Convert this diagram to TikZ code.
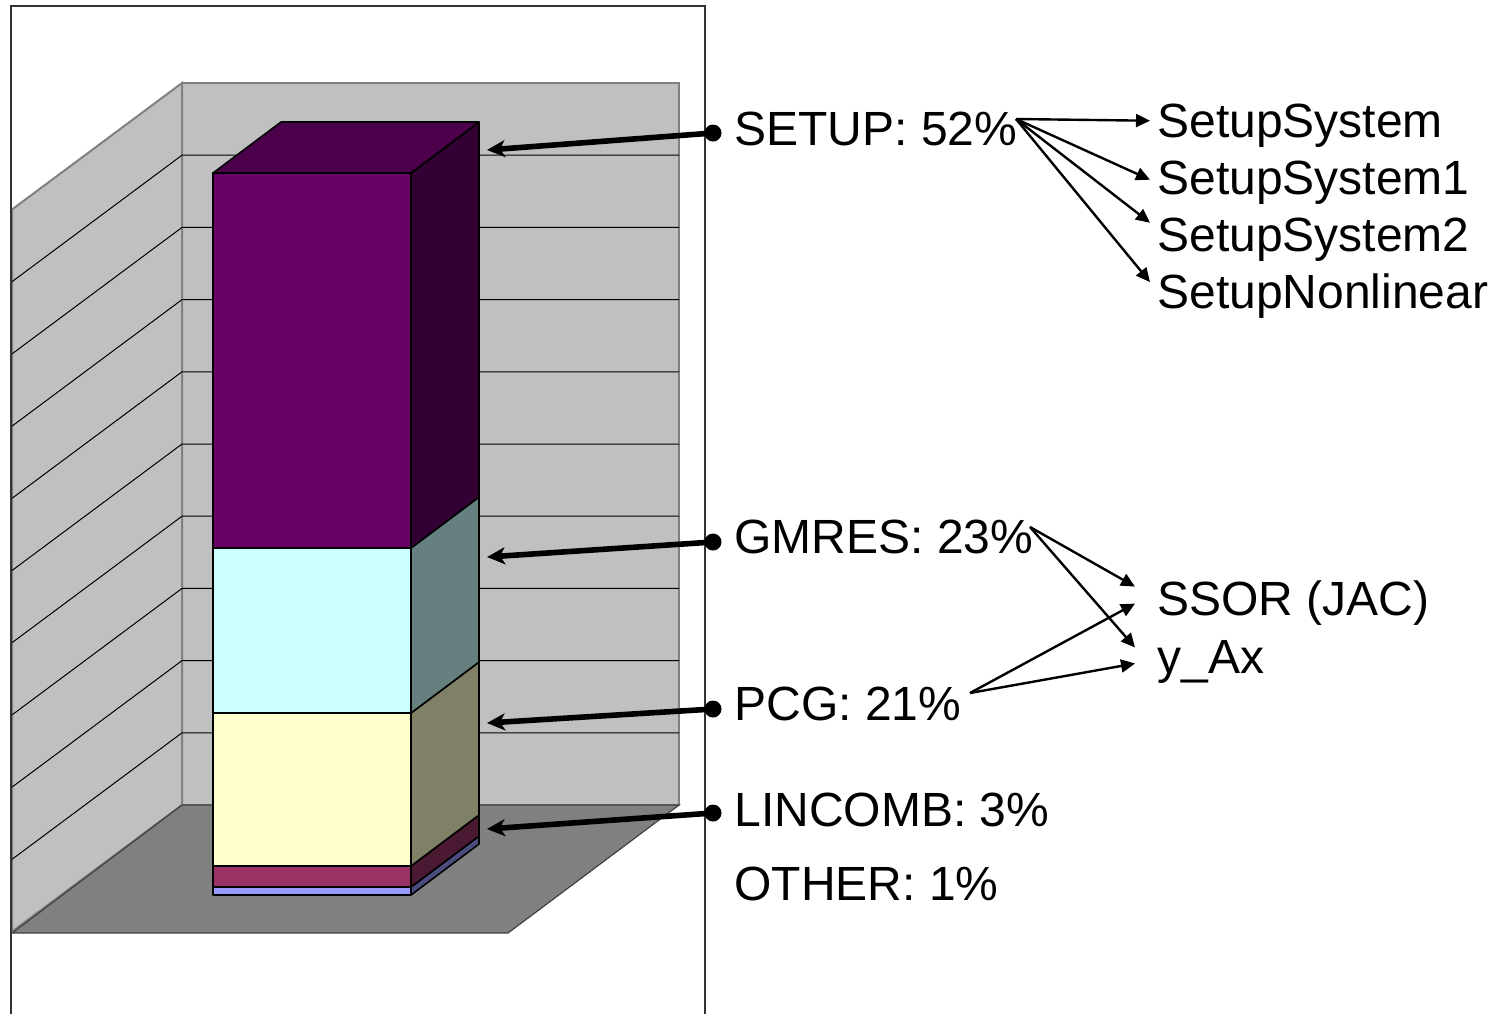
\documentclass[tikz,border=0pt]{standalone}
\usepackage{fontspec}
\setmainfont{Liberation Sans}
\usetikzlibrary{arrows.meta}

\definecolor{setupc}{HTML}{660066}
\definecolor{gmresc}{HTML}{CCFFFF}
\definecolor{pcgc}{HTML}{FFFFCC}
\definecolor{lincombc}{HTML}{993366}
\definecolor{otherc}{HTML}{9999FF}
\definecolor{wallc}{HTML}{C0C0C0}
\definecolor{floorc}{HTML}{808080}

\begin{document}
\begin{tikzpicture}[x=0.5pt,y=-0.5pt,
wall/.style={draw=floorc,line width=1pt,fill=wallc},
floorpart/.style={draw=black!75,line width=0.6pt,fill=floorc},
gridline/.style={black,line width=0.5pt},
barface/.style={draw=black,line width=0.8pt,line join=round},
callout/.style={black,line width=2.8pt,-{Stealth[length=9pt,width=8.5pt,inset=2.5pt]}},
dot/.style={circle,fill=black,inner sep=0pt,minimum size=8.5pt},
fan/.style={black,line width=1.2pt,-{Triangle[length=7pt,width=6.5pt]}},
lbl/.style={inner sep=0pt,anchor=base west,font=\fontsize{24}{28}\selectfont}]

\useasboundingbox (0,0) rectangle (1491,1014);

% chart walls
\draw[wall] (182,83) rectangle (679,805);
\draw[wall] (12,209.5) -- (182,83) -- (182,805) -- (12,931.5) -- cycle;
\draw[floorpart] (12,933) -- (182,805) -- (679,805) -- (508,933) -- cycle;
\foreach \k in {1,...,9}{
  \pgfmathsetmacro\gy{83+72.2*\k}
  \draw[gridline] (12,\gy+126.5) -- (182,\gy) -- (679,\gy);
}

% stacked bar
	\def \xl {213}
	\def \xr {411}
	\def \dx {68}
	\def \dy {-51}
\foreach \lo/\hi/\col in {895/887/otherc, 887/866/lincombc, 866/713/pcgc, 713/548/gmresc, 548/173/setupc}{
  \draw[barface,fill=\col] (\xl,\lo) rectangle (\xr,\hi);
  \draw[barface,fill=\col!50!black] (\xr,\lo) -- (\xr+\dx,\lo+\dy) -- (\xr+\dx,\hi+\dy) -- (\xr,\hi) -- cycle;
}
\draw[barface,fill=setupc!75!black] (\xl,173) -- (\xl+\dx,173+\dy) -- (\xr+\dx,173+\dy) -- (\xr,173) -- cycle;

% frame
\draw[black!80,line width=0.8pt] (11,1014) -- (11,6) -- (705,6) -- (705,1014);

% labels
\node[lbl] (setup) at (734,145) {SETUP: 52\%};
\node[lbl] (gmres) at (734,553) {GMRES: 23\%};
\node[lbl] (pcg) at (734,720) {PCG: 21\%};
\node[lbl] (lincomb) at (734,826) {LINCOMB: 3\%};
\node[lbl] (other) at (734,900) {OTHER: 1\%};

\node[lbl] (sys) at (1157,137) {SetupSystem};
\node[lbl] (sys1) at (1157,194) {SetupSystem1};
\node[lbl] (sys2) at (1157,251) {SetupSystem2};
\node[lbl] (nonlin) at (1157,308) {SetupNonlinear};
\node[lbl] (ssor) at (1157,615) {SSOR (JAC)};
\node[lbl] (yax) at (1157,673) {y\_Ax};

% callouts to the bar
\node[dot] (setupdot) at (713,133) {};
\node[dot] (gmresdot) at (713,542) {};
\node[dot] (pcgdot) at (713,709) {};
\node[dot] (lincombdot) at (713,813) {};
\coordinate (setuptip) at (487,150);
\coordinate (gmrestip) at (487,557);
\coordinate (pcgtip) at (487,723);
\coordinate (lincombtip) at (487,829);
\draw[callout] (setupdot.center) -- (setuptip);
\draw[callout] (gmresdot.center) -- (gmrestip);
\draw[callout] (pcgdot.center) -- (pcgtip);
\draw[callout] (lincombdot.center) -- (lincombtip);

% routines called
\coordinate (setupout) at (1016,119);
\coordinate (gmresout) at (1030,527);
\coordinate (pcgout) at (970,693);
\draw[fan] (setupout) -- ([xshift=-3.5pt,yshift=2.25pt]sys.west);
\draw[fan] (setupout) -- ([xshift=-3.5pt,yshift=1.25pt]sys1.west);
\draw[fan] (setupout) -- ([xshift=-3.5pt,yshift=8.25pt]sys2.west);
\draw[fan] (setupout) -- ([xshift=-3.5pt,yshift=6.75pt]nonlin.west);
\draw[fan] (gmresout) -- ([xshift=-11pt,yshift=8pt]ssor.west);
\draw[fan] (gmresout) -- ([xshift=-11pt,yshift=7pt]yax.west);
\draw[fan] (pcgout) -- ([xshift=-11pt,yshift=-0.5pt]ssor.west);
\draw[fan] (pcgout) -- ([xshift=-11pt,yshift=-1pt]yax.west);
\end{tikzpicture}
\end{document}
